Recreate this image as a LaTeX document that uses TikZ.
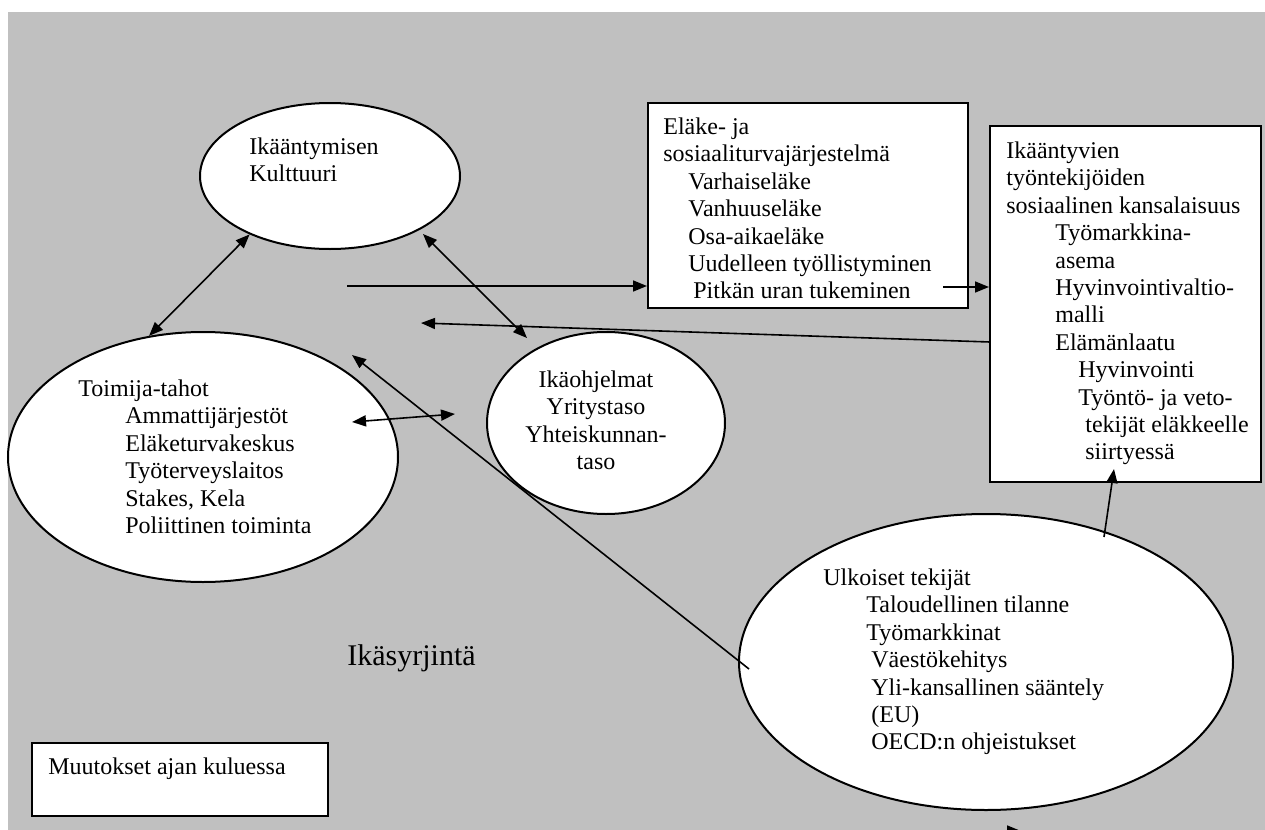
\documentclass[tikz,border=0pt]{standalone}
\usepackage{fontspec}
\setmainfont{Liberation Serif}
\usetikzlibrary{arrows.meta,shapes.geometric}
\definecolor{bggray}{RGB}{192,192,192}
\begin{document}
\begin{tikzpicture}[x=0.5pt,y=-0.5pt,
  shapeline/.style={draw=black,line width=1pt,fill=white},
  oval/.style={shapeline,ellipse,inner sep=0pt},
  boxnode/.style={shapeline,rectangle,inner sep=0pt},
  txt/.style={anchor=north west,inner sep=0pt,align=left,font=\fontsize{12pt}{13.7pt}\selectfont},
  conn/.style={line width=0.8pt,-{Triangle[length=7pt,width=5.5pt]}},
  bothconn/.style={line width=0.8pt,{Triangle[length=7pt,width=5.5pt]}-{Triangle[length=7pt,width=5.5pt]}},
]
\useasboundingbox (0,0) rectangle (1265,830);
\fill[bggray] (8,12) rectangle (1265,830);

% shapes
\node[oval,minimum width=130pt,minimum height=73pt] (kult) at (330,176) {};
\node[oval,minimum width=195pt,minimum height=125pt] (toim) at (203,457) {};
\node[oval,minimum width=119pt,minimum height=91pt] (ikao) at (606,423) {};
\node[oval,minimum width=247pt,minimum height=148pt] (ulk) at (986,662) {};
\node[boxnode,minimum width=160pt,minimum height=102.5pt] (elake) at (808,205.5) {};
\node[boxnode,minimum width=135.5pt,minimum height=178pt] (rbox) at (1125.5,304) {};
\node[boxnode,minimum width=148pt,minimum height=36.5pt] (muut) at (180,779.5) {};

% texts
\node[txt] (kultT) at (249,134) {\rule{0pt}{10pt}Ikääntymisen\\Kulttuuri};
\node[txt] (elakeT) at (663,114) {\rule{0pt}{10pt}Eläke- ja\\sosiaaliturvajärjestelmä\\\hspace*{12.5pt}Varhaiseläke\\\hspace*{12.5pt}Vanhuuseläke\\\hspace*{12.5pt}Osa-aikaeläke\\\hspace*{12.5pt}Uudelleen työllistyminen\\\hspace*{15pt}Pitkän uran tukeminen};
\node[txt] (rboxT) at (1006,138) {\rule{0pt}{10pt}Ikääntyvien\\työntekijöiden\\sosiaalinen kansalaisuus\\\hspace*{24.5pt}Työmarkkina-\\\hspace*{24.5pt}asema\\\hspace*{24.5pt}Hyvinvointivaltio-\\\hspace*{24.5pt}malli\\\hspace*{24.5pt}Elämänlaatu\\\hspace*{36pt}Hyvinvointi\\\hspace*{36pt}Työntö- ja veto-\\\hspace*{39.5pt}tekijät eläkkeelle\\\hspace*{39.5pt}siirtyessä};
\node[txt] (toimT) at (78,376) {\rule{0pt}{10pt}Toimija-tahot\\\hspace*{23.5pt}Ammattijärjestöt\\\hspace*{23.5pt}Eläketurvakeskus\\\hspace*{23.5pt}Työterveyslaitos\\\hspace*{23.5pt}Stakes, Kela\\\hspace*{23.5pt}Poliittinen toiminta};
\node[txt,align=center,anchor=north] (ikaoT) at (596,367) {\rule{0pt}{10pt}Ikäohjelmat\\Yritystaso\\Yhteiskunnan-\\taso};
\node[txt] (ulkT) at (823,565) {\rule{0pt}{10pt}Ulkoiset tekijät\\\hspace*{21.5pt}Taloudellinen tilanne\\\hspace*{21.5pt}Työmarkkinat\\\hspace*{24pt}Väestökehitys\\\hspace*{24pt}Yli-kansallinen sääntely\\\hspace*{24pt}(EU)\\\hspace*{24pt}OECD:n ohjeistukset};
\node[txt,anchor=base west] (muutT) at (48,774) {Muutokset ajan kuluessa};
\node[anchor=base west,inner sep=0pt,font=\fontsize{15pt}{18pt}\selectfont] (ikasyr) at (347,665) {Ikäsyrjintä};

% connectors
\draw[bothconn] (kult.216.7) -- (toim.114.4);
\coordinate (k2) at (423,234);
\coordinate (i2) at (527,338);
\draw[bothconn] (k2) -- (i2);
\coordinate (a3s) at (347,286);
\draw[conn] (a3s) -- (a3s -| elake.west);
\coordinate (a4s) at (943,287);
\draw[conn] (a4s) -- (a4s -| rbox.west);
\coordinate (a5s) at (990,342);
\coordinate (a5e) at (421,323);
\draw[conn] (a5s) -- (a5e);
\coordinate (a6l) at (352,422);
\coordinate (a6r) at (455,414);
\draw[bothconn] (a6l) -- (a6r);
\coordinate (a7s) at (749,669);
\coordinate (a7e) at (352,355);
\draw[conn] (a7s) -- (a7e);
\coordinate (a8s) at (1104,537);
\coordinate (a8e) at (1114,469);
\draw[conn] (a8s) -- (a8e);
\coordinate (a9s) at (985,831);
\coordinate (a9e) at (1021,831);
\draw[conn] (a9s) -- (a9e);
\end{tikzpicture}
\end{document}
